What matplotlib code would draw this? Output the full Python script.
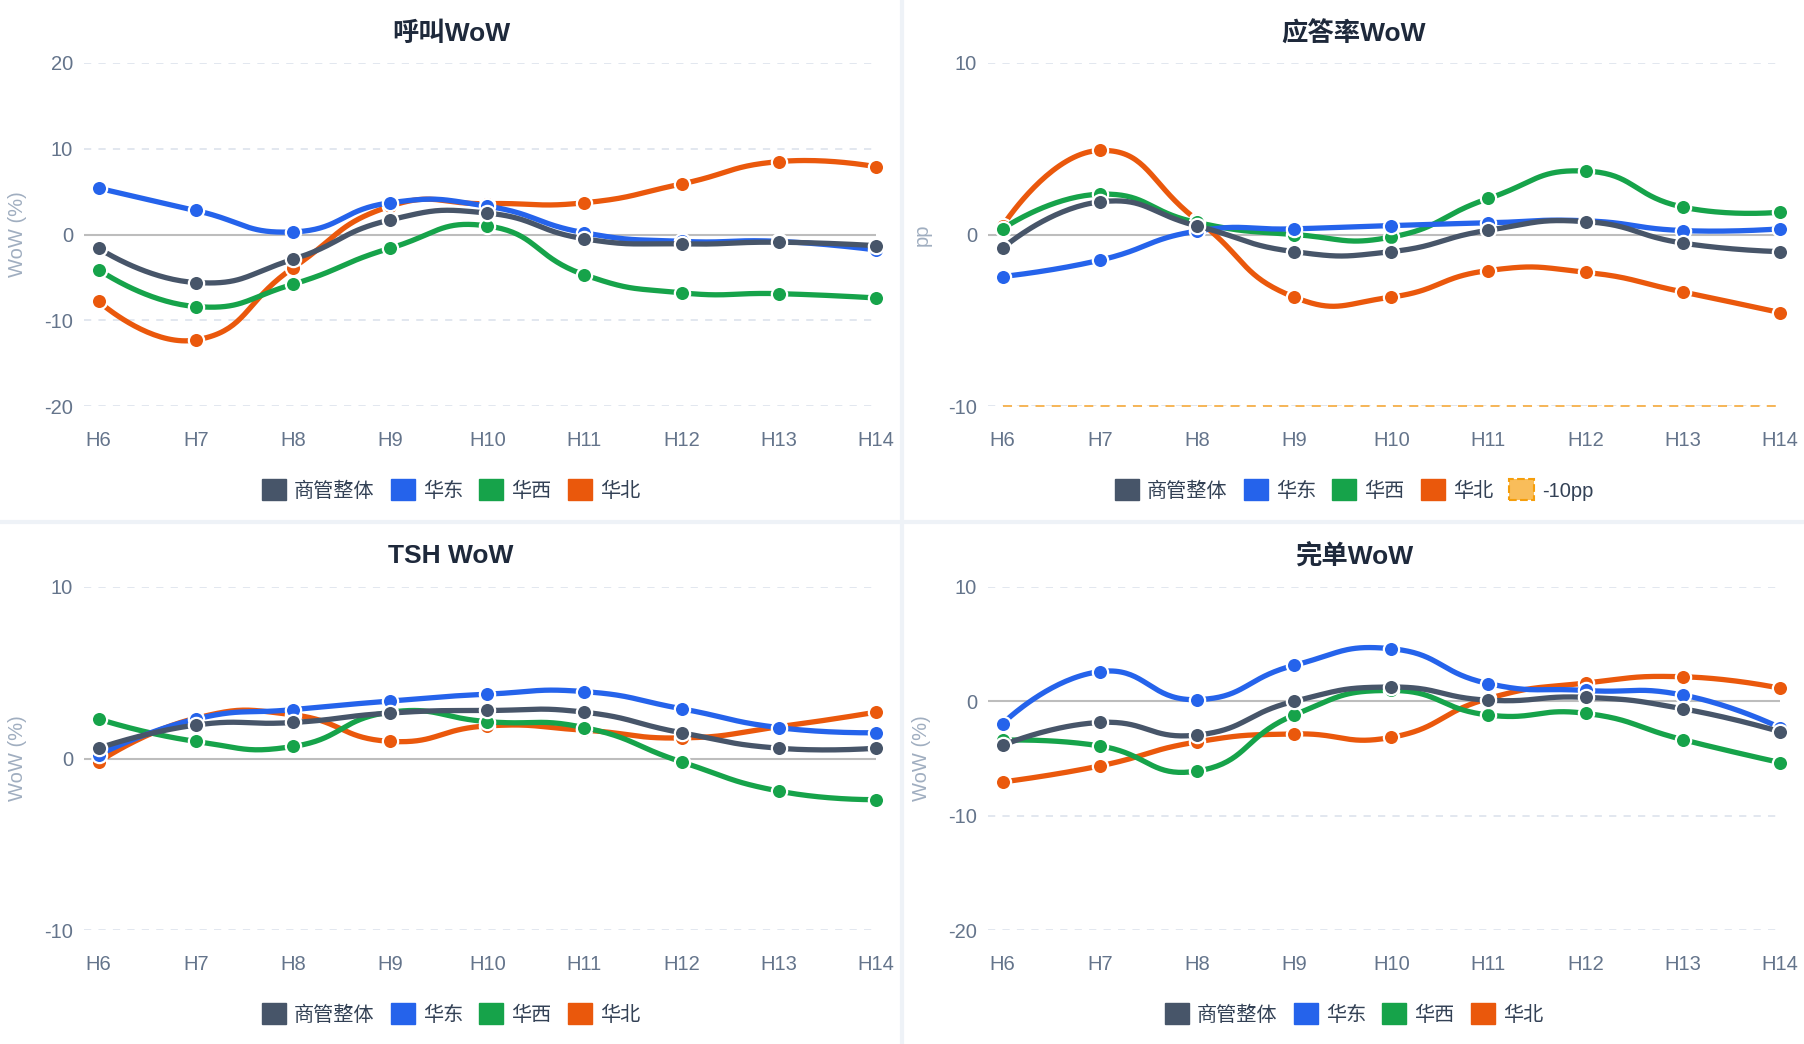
import matplotlib
matplotlib.use('Agg')
import matplotlib.pyplot as plt
from matplotlib.patches import Patch
import numpy as np

plt.rcParams['font.family'] = ['Liberation Sans', 'Noto Sans CJK SC', 'DejaVu Sans']
plt.rcParams['axes.unicode_minus'] = False

hours = ['H6', 'H7', 'H8', 'H9', 'H10', 'H11', 'H12', 'H13', 'H14']
regions = ['商管整体', '华东', '华西', '华北']
colors = ['#475569', '#2563eb', '#16a34a', '#ea580c']

# 呼叫 WoW (%)
call_total = [-1.6, -5.6, -2.9, 1.7, 2.5, -0.5, -1.1, -0.9, -1.3]
call_east = [5.4, 2.8, 0.3, 3.7, 3.3, 0.2, -0.8, -0.8, -1.8]
call_west = [-4.1, -8.4, -5.8, -1.6, 1.0, -4.7, -6.8, -6.9, -7.4]
call_north = [-7.8, -12.3, -3.9, 3.3, 3.6, 3.7, 5.9, 8.5, 7.9]

# 应答率 WoW (pp)
ans_total = [-0.8, 1.9, 0.5, -1.0, -1.0, 0.25, 0.75, -0.5, -1.0]
ans_east = [-2.45, -1.5, 0.2, 0.33, 0.52, 0.68, 0.8, 0.23, 0.33]
ans_west = [0.33, 2.35, 0.7, 0.0, -0.15, 2.1, 3.7, 1.6, 1.3]
ans_north = [0.5, 4.9, 0.85, -3.65, -3.65, -2.1, -2.2, -3.35, -4.55]
ans_floor = [-10] * 9

# TSH WoW (%)
tsh_total = [0.6, 1.95, 2.1, 2.65, 2.8, 2.7, 1.5, 0.6, 0.6]
tsh_east = [0.2, 2.3, 2.85, 3.35, 3.75, 3.9, 2.9, 1.8, 1.5]
tsh_west = [2.3, 1.0, 0.7, 2.7, 2.15, 1.8, -0.2, -1.9, -2.4]
tsh_north = [-0.2, 2.35, 2.55, 1.0, 1.9, 1.65, 1.2, 1.85, 2.7]

# 完单 WoW (%)
done_total = [-3.85, -1.85, -2.95, 0.0, 1.25, 0.1, 0.35, -0.65, -2.65]
done_east = [-1.95, 2.6, 0.15, 3.15, 4.6, 1.55, 0.95, 0.55, -2.3]
done_west = [-3.4, -3.9, -6.1, -1.2, 0.95, -1.2, -1.05, -3.35, -5.35]
done_north = [-7.05, -5.65, -3.55, -2.85, -3.15, 0.25, 1.6, 2.15, 1.15]

W, H = 1804, 1044
fig = plt.figure(figsize=(W / 100, H / 100), dpi=100)
fig.patch.set_facecolor('white')

# panel dividers
fig.add_artist(plt.Line2D([902 / W, 902 / W], [0, 1], color='#eef2f7', lw=3))
fig.add_artist(plt.Line2D([0, 1], [1 - 522 / H, 1 - 522 / H], color='#eef2f7', lw=3))


def smooth_line(ax, xs, ys, smooth=0.5, n=40):
    # echarts-like bezier smoothing, done in pixel space
    pts = ax.transData.transform(np.column_stack([xs, ys]))
    out = [pts[0]]
    cp0 = pts[0]
    for k in range(1, len(pts)):
        p = pts[k]
        prev = pts[k - 1]
        if k + 1 < len(pts):
            nxt = pts[k + 1]
            v = nxt - prev
            l0 = np.hypot(*(p - prev))
            l1 = np.hypot(*(nxt - p))
            r = l1 / (l0 + l1)
            cp1 = p - v * smooth * (1 - r)
            ncp0 = p + v * smooth * r
        else:
            cp1 = p
            ncp0 = p
        t = np.linspace(0, 1, n)[1:, None]
        seg = ((1 - t) ** 3) * prev + 3 * ((1 - t) ** 2) * t * cp0 \
            + 3 * (1 - t) * t ** 2 * cp1 + t ** 3 * p
        out.extend(seg)
        cp0 = ncp0
    out = ax.transData.inverted().transform(np.array(out))
    return out[:, 0], out[:, 1]


def panel(left, right, top, bottom, ylim, yticks, title, ylabel, series,
          floor=None, title_x=451, title_y=34, leg_y=490):
    ax = fig.add_axes([left / W, 1 - bottom / H, (right - left) / W, (bottom - top) / H])
    ax.set_xlim(-0.15, 8)
    ax.set_ylim(*ylim)
    for s in ax.spines.values():
        s.set_visible(False)
    x = np.arange(len(hours))
    ax.set_xticks(x)
    ax.set_xticklabels(hours)
    ax.set_yticks(yticks)
    ax.set_yticklabels([str(v) for v in yticks])
    ax.tick_params(length=0, labelsize=14.5, labelcolor='#64748b')
    ax.tick_params(axis='y', pad=8)
    ax.tick_params(axis='x', pad=18)
    for v in yticks:
        if v != 0:
            ax.axhline(v, color='#dfe5ee', lw=1.3, ls=(0, (4, 4)), zorder=0)
    ax.axhline(0, color='#bdbdbd', lw=1.5, zorder=1)
    ax.set_ylabel(ylabel, fontsize=14.5, color='#a0aec0', labelpad=12)

    handles = []
    z = 10
    for name, vals, c in zip(regions, series, colors):
        z -= 1
        sx, sy = smooth_line(ax, x, vals)
        ax.plot(sx, sy, color=c, lw=3.8, zorder=z, clip_on=False, solid_capstyle='round')
        ax.plot(x, vals, 'o', color=c, ms=11, mec='white', mew=1.6, zorder=z, clip_on=False)
        handles.append(Patch(facecolor=c, edgecolor=c, label=name))
    if floor is not None:
        ax.plot(x, floor, color='#f6b04a', lw=1.3, ls=(0, (5, 4)), zorder=2, clip_on=False)
        handles.append(Patch(facecolor='#f9bd5a', edgecolor='#f59e0b', ls='--', lw=1.5,
                             label='-10pp'))

    fig.text(title_x / W, 1 - title_y / H, title, ha='center', va='center',
             fontsize=19, fontweight='bold', color='#1e293b')
    leg = fig.legend(handles=handles, loc='center', bbox_to_anchor=(title_x / W, 1 - leg_y / H),
                     ncol=len(handles), frameon=False, fontsize=14.5, handlelength=1.2,
                     handleheight=1.2, handletextpad=0.4, columnspacing=0.8)
    for t in leg.get_texts():
        t.set_color('#334155')
    return ax


panel(84, 876, 63, 406, (-20, 20), [-20, -10, 0, 10, 20], '呼叫WoW', 'WoW (%)',
      [call_total, call_east, call_west, call_north])
panel(988, 1780, 63, 406, (-10, 10), [-10, 0, 10], '应答率WoW', 'pp',
      [ans_total, ans_east, ans_west, ans_north], floor=ans_floor, title_x=1354)
panel(84, 876, 587, 930, (-10, 10), [-10, 0, 10], 'TSH WoW', 'WoW (%)',
      [tsh_total, tsh_east, tsh_west, tsh_north], title_y=556, leg_y=1014)
panel(988, 1780, 587, 930, (-20, 10), [-20, -10, 0, 10], '完单WoW', 'WoW (%)',
      [done_total, done_east, done_west, done_north], title_x=1354, title_y=556, leg_y=1014)

fig.savefig('out.png', dpi=100, facecolor='white')
